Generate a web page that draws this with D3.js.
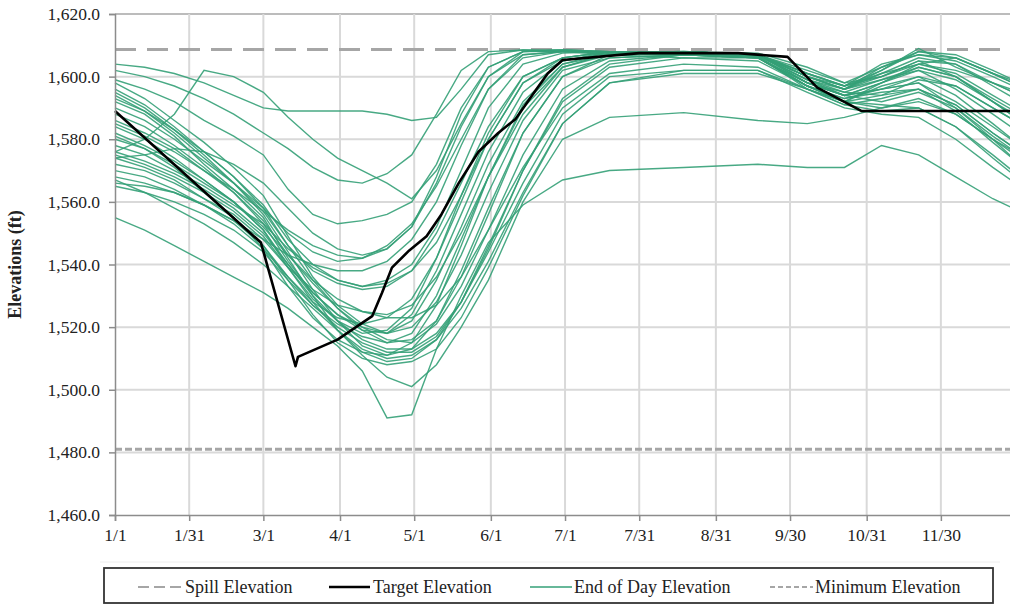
<!DOCTYPE html>
<html>
<head>
<meta charset="utf-8">
<script src="https://cdn.jsdelivr.net/npm/d3@7"></script>
<style>
  body { margin: 0; background: #fff; }
  svg { display: block; font-family: "Liberation Serif", "Times New Roman", serif; }
</style>
</head>
<body>
<div id="chart"></div>
<script>
// day of year (leap year, 1/1 = 0)
const tickDays = [0, 30, 60, 91, 121, 152, 182, 212, 243, 273, 304, 334];
const tickLabels = ["1/1", "1/31", "3/1", "4/1", "5/1", "6/1", "7/1", "7/31", "8/31", "9/30", "10/31", "11/30"];
const yTicks = [1460, 1480, 1500, 1520, 1540, 1560, 1580, 1600, 1620];

const spillElevation = 1608.7;
const minimumElevation = 1481;

const targetDays = [0, 59, 73, 74, 90, 104, 108, 112, 119, 126, 132, 139, 147, 155, 162, 170, 175, 181, 212, 252, 272, 284, 290, 302, 366];
const targetElev = [1589, 1547, 1507.5, 1510.5, 1516, 1523.5, 1531, 1539, 1544.5, 1549, 1556, 1566, 1576, 1582, 1586.5, 1595.5, 1601, 1605.3, 1607.5, 1607.5, 1606.3, 1596.5, 1594, 1589, 1589];

// end of day elevations, sampled on these days
const runDays = [0, 12, 24, 36, 48, 60, 70, 80, 90, 100, 110, 120, 130, 140, 151, 165, 181, 200, 230, 260, 280, 295, 310, 325, 340, 355, 366];
const run01 = [1604,1603,1601,1598,1594,1590,1589,1589,1589,1589,1588,1586,1587,1596,1607,1608.5,1608.5,1608,1608,1607.5,1603,1598,1600,1604,1602,1598,1595];
const run02 = [1576,1580,1588,1602,1600,1595,1587,1580,1574,1570,1566,1561,1570,1585,1600,1607,1608,1608,1607.5,1607,1600,1596,1602,1609,1603,1598,1594];
const run03 = [1602,1600,1597,1593,1588,1582,1577,1571,1567,1566,1569,1575,1588,1602,1608,1608.5,1608,1607,1606,1606,1598,1594,1596,1600,1597,1590,1585];
const run04 = [1599,1596,1592,1586,1581,1575,1564,1556,1553,1554,1556,1560,1572,1590,1603,1608,1608,1607.5,1607,1606,1597,1592,1598,1604,1606,1601,1597];
const run05 = [1555,1551,1546,1541,1536,1531,1526,1520,1514,1506,1491,1492,1513,1530,1547,1559,1567,1570,1571,1572,1571,1571,1578,1575,1568,1561,1557];
const run06 = [1567,1563,1558,1553,1547,1540,1533,1526,1519,1511,1504,1501,1508,1520,1535,1560,1580,1587,1588.5,1586,1585,1587,1590,1592,1588,1580,1575];
const run07 = [1598,1593,1586,1579,1571,1562,1549,1536,1527,1521,1518,1522,1535,1552,1572,1592,1604,1608,1608,1607,1600,1597,1600,1605,1600,1592,1586];
const run08 = [1596,1591,1584,1576,1568,1558,1546,1535,1526,1519,1515,1518,1530,1548,1568,1588,1603,1607.5,1608,1607,1598,1595,1599,1602,1596,1588,1582];
const run09 = [1595,1590,1583,1575,1566,1556,1544,1532,1522,1514,1511,1513,1522,1538,1558,1582,1600,1607,1607.5,1606.5,1596,1592,1597,1600,1594,1585,1578];
const run10 = [1594,1589,1582,1574,1566,1557,1546,1538,1534,1532,1533,1538,1550,1566,1584,1600,1606,1608,1608,1607,1599,1596,1601,1606,1604,1597,1592];
const run11 = [1592,1588,1581,1572,1564,1555,1542,1530,1519,1512,1509,1510,1516,1528,1546,1570,1593,1604,1607,1606,1597,1593,1596,1598,1590,1580,1572];
const run12 = [1590,1586,1580,1573,1566,1558,1550,1544,1541,1542,1546,1553,1565,1580,1596,1607,1608,1608,1608,1607,1601,1597,1604,1607,1605,1600,1596];
const run13 = [1588,1584,1578,1571,1563,1553,1541,1531,1524,1519,1518,1524,1538,1556,1576,1595,1605,1608,1608,1607,1599,1595,1594,1599,1597,1590,1585];
const run14 = [1586,1582,1577,1570,1563,1554,1543,1534,1526,1520,1516,1515,1521,1533,1551,1575,1596,1605,1607,1606,1597,1592,1590,1593,1588,1580,1574];
const run15 = [1585,1581,1576,1570,1564,1557,1551,1546,1543,1542,1545,1552,1566,1584,1600,1608,1608.5,1608,1607.5,1607,1602,1598,1603,1608,1607,1602,1598];
const run16 = [1584,1580,1574,1567,1560,1551,1539,1529,1522,1518,1519,1526,1542,1562,1582,1600,1606,1608,1608,1607,1598,1594,1598,1602,1599,1592,1587];
const run17 = [1582,1578,1573,1567,1560,1552,1543,1535,1529,1525,1523,1523,1527,1536,1551,1571,1590,1601,1604,1603,1596,1591,1589,1590,1584,1575,1568];
const run18 = [1580,1577,1572,1566,1560,1551,1540,1530,1522,1516,1513,1513,1518,1528,1544,1566,1588,1600,1602,1602,1595,1590,1588,1587,1580,1571,1565];
const run19 = [1578,1575,1570,1565,1559,1553,1545,1539,1535,1533,1534,1538,1547,1562,1580,1598,1605,1607.5,1608,1607,1600,1596,1600,1605,1604,1598,1594];
const run20 = [1576,1573,1569,1564,1558,1550,1540,1531,1524,1520,1518,1520,1528,1543,1563,1586,1602,1606,1607,1606,1598,1594,1596,1598,1592,1584,1578];
const run21 = [1575,1572,1568,1563,1557,1549,1539,1528,1519,1513,1510,1511,1516,1526,1541,1563,1585,1598,1601,1601,1596,1592,1594,1596,1591,1582,1576];
const run22 = [1574,1571,1567,1561,1555,1546,1536,1528,1523,1521,1523,1529,1542,1560,1580,1598,1606,1608,1608,1607,1600,1596,1603,1607,1606,1601,1597];
const run23 = [1572,1570,1566,1561,1556,1548,1539,1532,1527,1525,1524,1527,1536,1550,1568,1590,1603,1607,1607.5,1606.5,1599,1594,1592,1595,1590,1581,1575];
const run24 = [1570,1568,1564,1559,1553,1545,1536,1527,1520,1515,1512,1512,1517,1528,1545,1570,1592,1603,1606,1605,1597,1592,1591,1590,1584,1574,1567];
const run25 = [1568,1566,1563,1559,1554,1548,1543,1540,1538,1538,1541,1548,1560,1578,1596,1606,1608,1608,1608,1607,1601,1597,1601,1604,1601,1594,1589];
const run26 = [1566,1565,1563,1559,1554,1546,1535,1524,1515,1510,1508,1509,1513,1523,1539,1562,1585,1598,1602,1602,1596,1591,1593,1596,1591,1582,1576];
const run27 = [1565,1563,1560,1556,1551,1544,1535,1527,1521,1517,1515,1516,1522,1536,1556,1582,1600,1606,1607,1606,1598,1594,1598,1603,1600,1593,1588];
const run28 = [1574,1575,1577,1576,1572,1566,1558,1550,1545,1543,1545,1552,1568,1588,1603,1608,1608.5,1608,1607.5,1607,1601,1597,1602,1608,1606,1601,1598];
const run29 = [1581,1577,1571,1563,1555,1545,1533,1523,1516,1512,1511,1515,1527,1546,1568,1591,1604,1607,1607.5,1606.5,1597,1593,1595,1596,1589,1579,1572];
const run30 = [1593,1589,1583,1576,1568,1559,1548,1540,1535,1533,1535,1540,1552,1570,1590,1604,1607.5,1608,1608,1607,1600,1596,1599,1603,1600,1592,1586];

const runs = [run01, run02, run03, run04, run05, run06, run07, run08, run09, run10,
              run11, run12, run13, run14, run15, run16, run17, run18, run19, run20,
              run21, run22, run23, run24, run25, run26, run27, run28, run29, run30];

const width = 1010, height = 607;
const margin = { top: 14, left: 115, bottom: 92 };
const plotBottom = height - margin.bottom;   // 515
const plotRight = 1020;

const svg = d3.select("#chart").append("svg")
    .attr("width", width)
    .attr("height", height);

const x = d3.scaleLinear().domain([0, 366]).range([margin.left, plotRight]);
const y = d3.scaleLinear().domain([1460, 1620]).range([plotBottom, margin.top]);

const gridColor = "#d9d9d9";
const green = "#34a077";

// grid
svg.append("g").selectAll("line")
    .data(yTicks.slice(1))
    .enter().append("line")
    .attr("x1", margin.left).attr("x2", width)
    .attr("y1", d => y(d)).attr("y2", d => y(d))
    .attr("stroke", d => d === 1620 ? "#a6a6a6" : gridColor)
    .attr("stroke-width", d => d === 1620 ? 1.5 : 2);

svg.append("g").selectAll("line")
    .data(tickDays.slice(1))
    .enter().append("line")
    .attr("x1", d => x(d)).attr("x2", d => x(d))
    .attr("y1", margin.top).attr("y2", plotBottom)
    .attr("stroke", gridColor)
    .attr("stroke-width", 2);

// reference elevations
svg.append("line")
    .attr("x1", margin.left).attr("x2", width)
    .attr("y1", y(minimumElevation)).attr("y2", y(minimumElevation))
    .attr("stroke", "#a6a6a6")
    .attr("stroke-width", 3)
    .attr("stroke-dasharray", "7,3");

svg.append("line")
    .attr("x1", margin.left).attr("x2", width)
    .attr("y1", y(spillElevation)).attr("y2", y(spillElevation))
    .attr("stroke", "#a6a6a6")
    .attr("stroke-width", 3)
    .attr("stroke-dasharray", "21,11");

// end of day traces
const runLine = d3.line()
    .x((d, i) => x(runDays[i]))
    .y(d => y(d));

svg.append("g").selectAll("path")
    .data(runs)
    .enter().append("path")
    .attr("d", runLine)
    .attr("fill", "none")
    .attr("stroke", green)
    .attr("stroke-width", 1.4)
    .attr("stroke-opacity", 0.9);

// target
const targetLine = d3.line()
    .x((d, i) => x(targetDays[i]))
    .y(d => y(d));

svg.append("path")
    .datum(targetElev)
    .attr("d", targetLine)
    .attr("fill", "none")
    .attr("stroke", "#000")
    .attr("stroke-width", 2.6)
    .attr("stroke-linejoin", "round");

// axes
const yAxis = svg.append("g")
    .attr("transform", "translate(" + margin.left + ",0)")
    .call(d3.axisLeft(y).tickValues(yTicks).tickFormat(d3.format(",.1f")).tickSize(6).tickPadding(9));

const xAxis = svg.append("g")
    .attr("transform", "translate(0," + plotBottom + ")")
    .call(d3.axisBottom(x).tickValues(tickDays).tickFormat((d, i) => tickLabels[i]).tickSize(6).tickPadding(8));

[yAxis, xAxis].forEach(g => {
    g.select(".domain").attr("stroke", "#8c8c8c").attr("stroke-width", 1.5);
    g.selectAll(".tick line").attr("stroke", "#8c8c8c").attr("stroke-width", 1.5);
    g.selectAll("text")
        .style("font-family", "'Liberation Serif', 'Times New Roman', serif")
        .attr("font-size", 17.5)
        .attr("fill", "#222");
});

svg.append("text")
    .attr("transform", "translate(21," + ((margin.top + plotBottom) / 2) + ") rotate(-90)")
    .attr("text-anchor", "middle")
    .attr("font-size", 18)
    .attr("font-weight", "bold")
    .attr("fill", "#222")
    .text("Elevations (ft)");

// legend
svg.append("line")
    .attr("x1", 100).attr("x2", 1000)
    .attr("y1", 562).attr("y2", 562)
    .attr("stroke", "#eeeeee");

svg.append("rect")
    .attr("x", 104).attr("y", 568)
    .attr("width", 889).attr("height", 35)
    .attr("fill", "#fff")
    .attr("stroke", "#333")
    .attr("stroke-width", 1.8);

const legendItems = [
    { label: "Spill Elevation", x0: 138, x1: 182, tx: 185, color: "#a6a6a6", width: 2, dash: "11,5" },
    { label: "Target Elevation", x0: 329, x1: 370, tx: 373, color: "#000", width: 2.6, dash: null },
    { label: "End of Day Elevation", x0: 530, x1: 572, tx: 574, color: green, width: 1.6, dash: null },
    { label: "Minimum Elevation", x0: 770, x1: 813, tx: 815, color: "#a6a6a6", width: 2, dash: "5,3" }
];

const legend = svg.append("g").selectAll("g")
    .data(legendItems)
    .enter().append("g");

legend.append("line")
    .attr("x1", d => d.x0).attr("x2", d => d.x1)
    .attr("y1", 587).attr("y2", 587)
    .attr("stroke", d => d.color)
    .attr("stroke-width", d => d.width)
    .attr("stroke-dasharray", d => d.dash);

legend.append("text")
    .attr("x", d => d.tx)
    .attr("y", 593)
    .attr("font-size", 18)
    .attr("fill", "#222")
    .text(d => d.label);
</script>
</body>
</html>
